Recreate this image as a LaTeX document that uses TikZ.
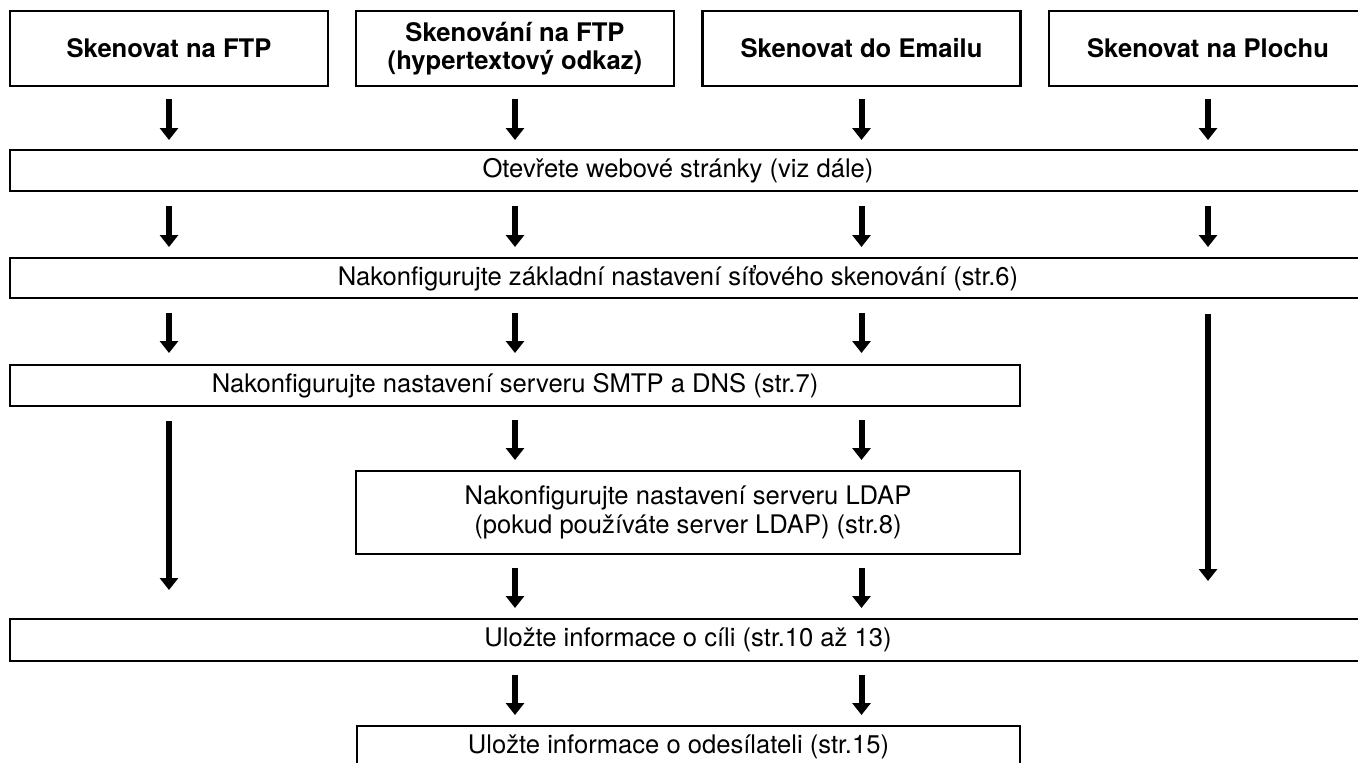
\documentclass[tikz,border=0pt]{standalone}
\usepackage{fontspec}
\setmainfont{TeX Gyre Heros}
\usetikzlibrary{arrows.meta,calc}
\begin{document}
\begin{tikzpicture}[x=0.5pt,y=-0.5pt,
  box/.style={draw, line width=1.3pt, inner sep=0pt, outer sep=0pt, align=center, font=\fontsize{12.8}{14.5}\selectfont},
  topbox/.style={box, minimum width=159pt, minimum height=37.5pt, font=\fontsize{12.8}{14}\selectfont\bfseries},
  arr/.style={line width=3pt, -{Triangle[width=9pt,length=6pt]}}
]
\clip (0,0) rectangle (1358,762);
\fill[white] (0,0) rectangle (1358,762);
% top boxes
\node[topbox] (b1) at (169,48.5) {Skenovat na FTP};
\node[topbox] (b2) at (515,48.5) {Skenování na FTP\\(hypertextový odkaz)};
\node[topbox] (b3) at (861.5,48.5) {Skenovat do Emailu};
\node[topbox] (b4) at (1208,48.5) {Skenovat na Plochu};
% step boxes
\node[box, minimum width=678pt, minimum height=20.5pt] (open) at (688,170.5) {\hspace*{-10pt}Otevřete webové stránky (viz dále)};
\node[box, minimum width=678pt, minimum height=20pt] (basic) at (688,278) {\hspace*{-10pt}Nakonfigurujte základní nastavení síťového skenování (str.6)};
\node[box, minimum width=505pt, minimum height=20.5pt] (smtp) at (515,385.5) {Nakonfigurujte nastavení serveru SMTP a DNS (str.7)};
\node[box, minimum width=332pt, minimum height=41.5pt] (ldap) at (688,512.5) {Nakonfigurujte nastavení serveru LDAP\\(pokud používáte server LDAP) (str.8)};
\node[box, minimum width=678pt, minimum height=21pt] (dest) at (688,640) {Uložte informace o cíli (str.10 až 13)};
\node[box, minimum width=331.5pt, minimum height=20.5pt] (sender) at (688.5,746.5) {\hspace*{-10pt}Uložte informace o odesílateli (str.15)};
% columns
\coordinate (c1) at (169,0);
\coordinate (c2) at (515,0);
\coordinate (c3) at (861.5,0);
\coordinate (c4) at (1208,0);
% row 1
\foreach \b in {b1,b2,b3,b4}
  \draw[arr] ($(\b.south)+(0,13)$) -- ($(\b.south |- open.north)+(0,-10)$);
% row 2
\foreach \c in {c1,c2,c3,c4}
  \draw[arr] ($(\c |- open.south)+(0,15)$) -- ($(\c |- basic.north)+(0,-11)$);
% row 3
\foreach \c in {c1,c2,c3}
  \draw[arr] ($(\c |- basic.south)+(0,15)$) -- ($(\c |- smtp.north)+(0,-12)$);
\draw[arr] ($(c4 |- basic.south)+(0,16)$) -- ($(c4 |- dest.north)+(0,-38)$);
% row 4
\foreach \c in {c2,c3}
  \draw[arr] ($(\c |- smtp.south)+(0,14)$) -- ($(\c |- ldap.north)+(0,-11)$);
\draw[arr] ($(c1 |- smtp.south)+(0,15)$) -- ($(c1 |- dest.north)+(0,-29)$);
% row 5
\foreach \c in {c2,c3}
  \draw[arr] ($(\c |- ldap.south)+(0,14)$) -- ($(\c |- dest.north)+(0,-11)$);
% row 6
\foreach \c in {c2,c3}
  \draw[arr] ($(\c |- dest.south)+(0,14)$) -- ($(\c |- sender.north)+(0,-11)$);
\end{tikzpicture}
\end{document}
